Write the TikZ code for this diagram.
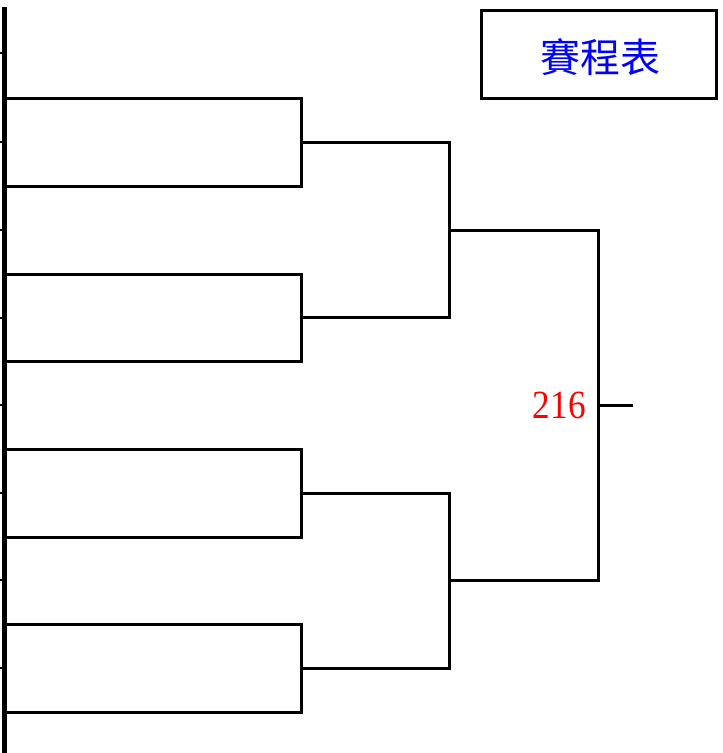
\documentclass[tikz,border=0pt]{standalone}
\usepackage{fontspec}
\setmainfont{Liberation Serif}
\newfontfamily\cjk{Noto Sans CJK TC}
\tikzset{
	bracket/.style={line width=2.25pt, line cap=rect},
	rail/.style={line width=3.75pt},
	notch/.style={line width=1.5pt},
}
\begin{document}
\begin{tikzpicture}[x=0.75pt,y=0.75pt,yscale=-1,xscale=1]
	%set diagram left start at 0, and has height of 753
	\useasboundingbox (0,0) rectangle (723,753);
	
	%Shape: Rail [id:rail] 
	\coordinate (railtop) at (4.5,7);
	\coordinate (railbot) at (4.5,753);
	\draw [rail] (railtop) -- (railbot);
	%Shape: Notches 
	\foreach \y in {53,142,230,318,405,493,580,668}
		\draw [notch] (0,\y) -- (3,\y);
	
	% Round one slots
	\foreach \n/\y in {1/98,2/186,3/274,4/361,5/449,6/537,7/624,8/712}{
		\coordinate (a\n) at (7,\y);
		\coordinate (b\n) at (301,\y);
	}
	% Round two
	\foreach \n/\y in {1/142,2/317,3/493,4/668}{
		\coordinate (c\n) at (301,\y);
		\coordinate (d\n) at (449,\y);
	}
	% Round three
	\coordinate (e1) at (449,230);
	\coordinate (f1) at (598,230);
	\coordinate (e2) at (449,580);
	\coordinate (f2) at (598,580);
	% Final
	\coordinate (g) at (598,405);
	\coordinate (h) at (631,405);
	
	%Shape: Round one 
	\draw [bracket] (a1) -- (b1) -- (b2) -- (a2);
	\draw [bracket] (a3) -- (b3) -- (b4) -- (a4);
	\draw [bracket] (a5) -- (b5) -- (b6) -- (a6);
	\draw [bracket] (a7) -- (b7) -- (b8) -- (a8);
	%Shape: Round two 
	\draw [bracket] (c1) -- (d1) -- (d2) -- (c2);
	\draw [bracket] (c3) -- (d3) -- (d4) -- (c4);
	%Shape: Round three 
	\draw [bracket] (e1) -- (f1) -- (f2) -- (e2);
	%Shape: Final 
	\draw [bracket] (g) -- (h);
	
	% Text Node
	\node [draw, line width=2.25pt, minimum width=235*0.75pt, minimum height=88*0.75pt, inner sep=0pt] (title) at (598.5,54) {};
	% Text Node
	\node [inner sep=0pt, text=blue, font=\cjk\fontsize{30}{30}\selectfont] (titletext) at (600,57.5) {賽程表};
	% Text Node
	\node [anchor=east, inner sep=0pt, text=red, font=\fontsize{30}{30}\selectfont] (score) at (586,405) {\scalebox{0.88}[1]{216}};
	
\end{tikzpicture}
\end{document}
